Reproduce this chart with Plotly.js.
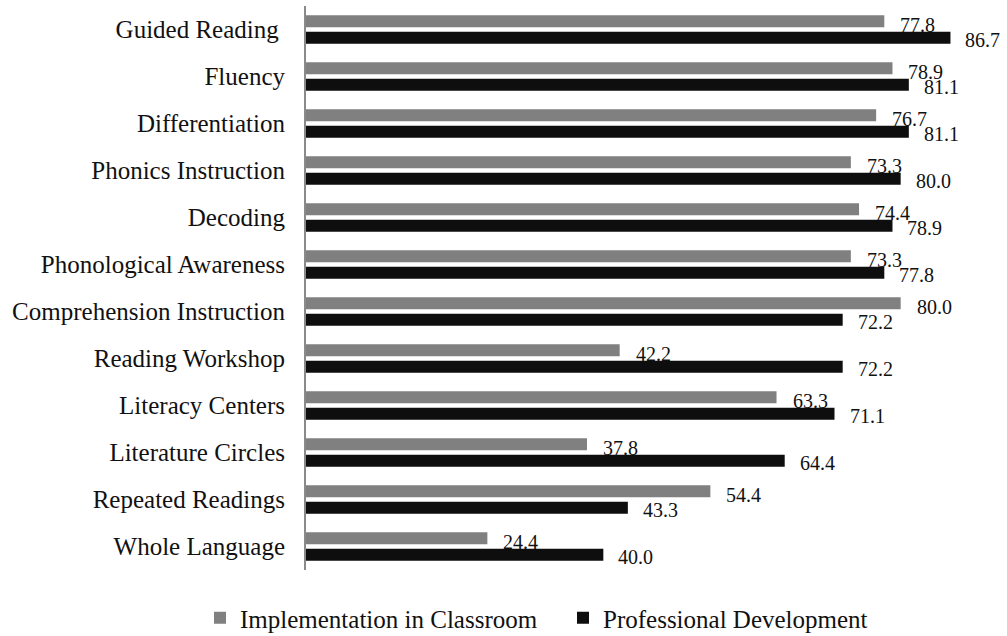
<!DOCTYPE html>
<html>
<head>
<meta charset="utf-8">
<script src="https://cdn.plot.ly/plotly-3.0.1.min.js"></script>
<style>
  html, body { margin: 0; padding: 0; background: #fff; }
  #chart { width: 1007px; height: 636px; }
</style>
</head>
<body>
<div id="chart"></div>
<script>
// Reading practices, top to bottom
const categories = [
  "Guided Reading", "Fluency", "Differentiation", "Phonics Instruction",
  "Decoding", "Phonological Awareness", "Comprehension Instruction",
  "Reading Workshop", "Literacy Centers", "Literature Circles",
  "Repeated Readings", "Whole Language"
];
// axis labels as typeset (the first one carries a trailing space)
const tickLabels = [
  "Guided Reading\u00a0", "Fluency", "Differentiation", "Phonics Instruction",
  "Decoding", "Phonological Awareness", "Comprehension Instruction",
  "Reading Workshop", "Literacy Centers", "Literature Circles",
  "Repeated Readings", "Whole Language"
];
const implementation = [77.8, 78.9, 76.7, 73.3, 74.4, 73.3, 80.0, 42.2, 63.3, 37.8, 54.4, 24.4];
const professional   = [86.7, 81.1, 81.1, 80.0, 78.9, 77.8, 72.2, 72.2, 71.1, 64.4, 43.3, 40.0];
const seriesNames = ["Implementation in Classroom", "Professional Development"];

const FONT = "Liberation Serif, Times New Roman, serif";
const GRAY = "#808080";
const BLACK = "#0e0e0e";

const traces = [
  {
    type: "bar", orientation: "h", name: seriesNames[0],
    x: implementation, y: categories,
    marker: { color: GRAY, line: { width: 0 } },
    legend: "legend",
    hoverinfo: "x+name"
  },
  {
    type: "bar", orientation: "h", name: seriesNames[1],
    x: professional, y: categories,
    marker: { color: BLACK, line: { width: 0 } },
    legend: "legend2",
    hoverinfo: "x+name"
  }
];

// value labels just past each bar end, shifted onto their own bar in the group
const labelFont = { family: FONT, size: 20, color: "#111" };
const annotations = [];
categories.forEach((c, i) => {
  annotations.push({
    x: implementation[i], y: c, xref: "x", yref: "y",
    text: implementation[i].toFixed(1), showarrow: false,
    xanchor: "left", yanchor: "middle", xshift: 14, yshift: 5,
    font: labelFont
  });
  annotations.push({
    x: professional[i], y: c, xref: "x", yref: "y",
    text: professional[i].toFixed(1), showarrow: false,
    xanchor: "left", yanchor: "middle", xshift: 13, yshift: -10,
    font: labelFont
  });
});

// one legend box per series so the two entries sit side by side at the bottom
const legendBase = {
  orientation: "h",
  xref: "container", yref: "container",
  xanchor: "left", y: 1 - 618 / 636, yanchor: "middle",
  font: { family: FONT, size: 25, color: "#111" },
  itemwidth: 30, bgcolor: "rgba(0,0,0,0)"
};

const layout = {
  width: 1007, height: 636,
  margin: { l: 306, r: 32, t: 6, b: 66 },
  paper_bgcolor: "#fff", plot_bgcolor: "#fff",
  font: { family: FONT, color: "#111" },
  barmode: "group",
  bargap: 0.3,
  bargroupgap: 0.27,
  showlegend: true,
  xaxis: {
    range: [0, 90], visible: false, fixedrange: true
  },
  yaxis: {
    type: "category", autorange: "reversed",
    tickmode: "array", tickvals: categories, ticktext: tickLabels,
    showline: true, linecolor: "#8a8a8a", linewidth: 2,
    showgrid: false, zeroline: false,
    ticks: "", ticklabelstandoff: 14,
    tickfont: { family: FONT, size: 25, color: "#111" },
    fixedrange: true
  },
  legend: Object.assign({}, legendBase, { x: 200 / 1007 }),
  legend2: Object.assign({}, legendBase, { x: 563 / 1007 }),
  annotations: annotations
};

Plotly.newPlot("chart", traces, layout, { displayModeBar: false, staticPlot: true });
</script>
</body>
</html>
